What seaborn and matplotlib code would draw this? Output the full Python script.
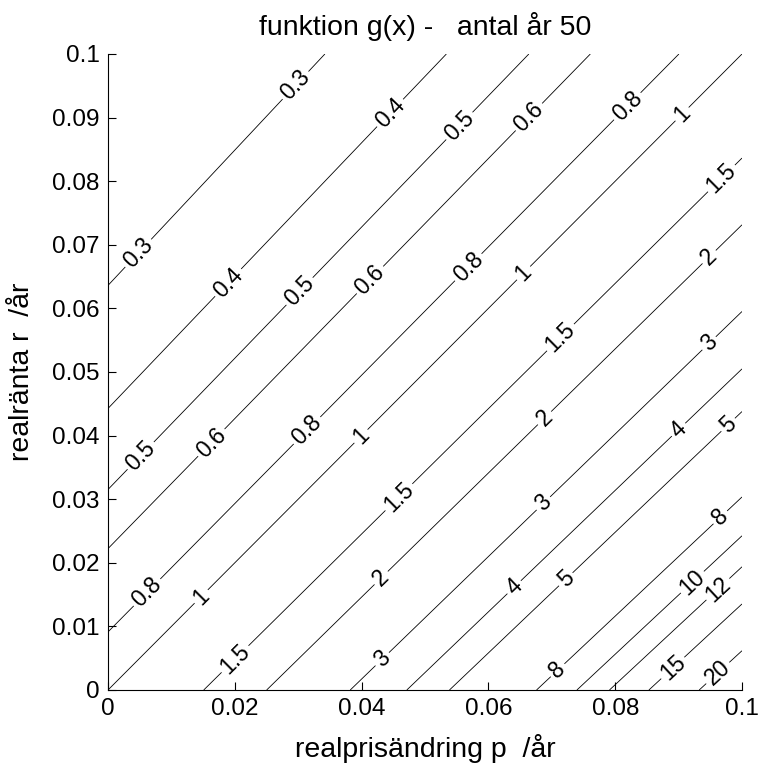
import numpy as np
import matplotlib
matplotlib.use("Agg")
import matplotlib.pyplot as plt
import seaborn as sns

# ---- data ----
n_years = 50
levels = [0.3, 0.4, 0.5, 0.6, 0.8, 1, 1.5, 2, 3, 4, 5, 8, 10, 12, 15, 20]
x_ticks = [0, 0.02, 0.04, 0.06, 0.08, 0.1]
y_ticks = [0, 0.01, 0.02, 0.03, 0.04, 0.05, 0.06, 0.07, 0.08, 0.09, 0.1]
title = "funktion g(x) -   antal år 50"
xlabel = "realprisändring p  /år"
ylabel = "realränta r  /år"

# where the contour labels sit (p, r)
label_spots = [
    (0.0287, 0.0959), (0.0039, 0.0695), (0.0188, 0.0642), (0.0300, 0.0629),
    (0.0413, 0.0645), (0.0440, 0.0912), (0.0550, 0.0891), (0.0666, 0.0899),
    (0.0820, 0.0917), (0.0907, 0.0904), (0.0970, 0.0802), (0.0568, 0.0665),
    (0.0655, 0.0656), (0.0953, 0.0676), (0.0718, 0.0550), (0.0953, 0.0540),
    (0.0050, 0.0370), (0.0164, 0.0388), (0.0316, 0.0406), (0.0400, 0.0398),
    (0.0063, 0.0152), (0.0148, 0.0146), (0.0205, 0.0044),
    (0.0694, 0.0422), (0.0905, 0.0404), (0.0981, 0.0414), (0.0460, 0.0302),
    (0.0692, 0.0288), (0.0970, 0.0267), (0.0434, 0.0173), (0.0645, 0.0157),
    (0.0726, 0.0170), (0.0926, 0.0165), (0.0968, 0.0152), (0.0437, 0.0044),
    (0.0713, 0.0027), (0.0897, 0.0028), (0.0968, 0.0020),
]


def g(p, r, n):
    q = (1 + p) / (1 + r)
    t = np.arange(1, n + 1)
    return (q[..., None] ** t).sum(axis=-1) / n


p_grid = np.linspace(0, 0.1, 201)
r_grid = np.linspace(0, 0.1, 201)
P, R = np.meshgrid(p_grid, r_grid)
G = g(P, R, n_years)

# ---- plot ----
sns.set_style("ticks")
plt.rcParams["font.family"] = ["Liberation Sans", "DejaVu Sans"]
plt.rcParams["xtick.direction"] = "in"
plt.rcParams["ytick.direction"] = "in"
plt.rcParams["text.color"] = "black"
plt.rcParams["axes.labelcolor"] = "black"

fig = plt.figure(figsize=(7.6, 7.65), dpi=100)
ax = fig.add_axes([108 / 760, 1 - 690 / 765, 634 / 760, 636 / 765])

cs = ax.contour(P, R, G, levels=levels, colors="black", linewidths=0.6)
ax.clabel(cs, fmt="%g", fontsize=16.5, inline=True, inline_spacing=3,
          manual=label_spots)

ax.set_xlim(0, 0.1)
ax.set_ylim(0, 0.1)
ax.set_xticks(x_ticks)
ax.set_yticks(y_ticks)
ax.set_xticklabels([f"{v:g}" for v in x_ticks])
ax.set_yticklabels([f"{v:g}" for v in y_ticks])
ax.tick_params(labelsize=17.5, length=6, width=0.8, color="black", labelcolor="black", pad=6)
sns.despine(ax=ax)
for s in ["left", "bottom"]:
    ax.spines[s].set_linewidth(0.8)
    ax.spines[s].set_color("black")

ax.set_title(title, fontsize=20.5, pad=14, color="black")
ax.set_xlabel(xlabel, fontsize=20.5, labelpad=10, color="black")
ax.set_ylabel(ylabel, fontsize=20.5, labelpad=12, color="black")

fig.savefig("out.png", dpi=100)
